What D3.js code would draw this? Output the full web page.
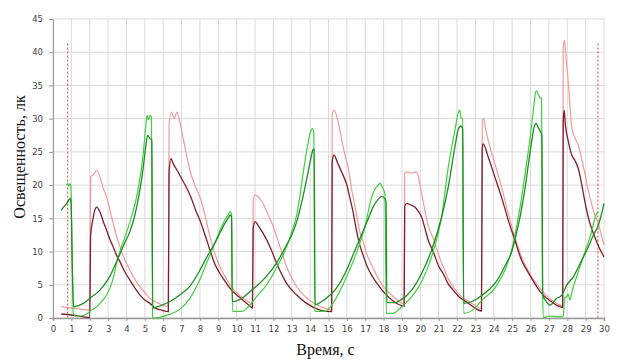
<!DOCTYPE html>
<meta charset="utf-8">
<head>
  <title>Освещенность</title>
</head>

<style>
body {
  margin: 0;
  background: #fff;
}
.tick text {
  font-family: "DejaVu Sans", sans-serif;
  font-size: 8.5px;
  fill: #444;
}
.axis-title {
  font-family: "Liberation Serif", serif;
  font-size: 16px;
  fill: #111;
}
</style>

<body>
  <svg id="chart" width="625" height="364"></svg>

  <script src="https://cdnjs.cloudflare.com/ajax/libs/d3/7.8.5/d3.min.js"></script>

  <script>
  // [время, с ; освещенность, лк]
  var lightRed = [
    [0.45,1.7],[1.0,1.5],[1.5,1.35],[2.0,1.2],[2.05,21.2],[2.2,21.6],[2.38,22.2],[2.56,21.2],[2.74,19.5],
    [2.92,18.2],[3.1,16.2],[3.28,14.2],[3.45,12.4],[3.65,10.7],[3.9,8.8],[4.19,7.2],[4.46,5.8],[4.74,4.7],
    [5.0,3.8],[5.28,2.95],[5.6,2.4],[5.9,2.0],[6.28,1.7],[6.32,29.0],[6.45,31.0],[6.6,30.0],[6.75,31.0],
    [6.9,29.5],[7.2,25.5],[7.46,22.2],[7.8,19.5],[8.0,18.2],[8.3,15.2],[8.55,12.2],[8.8,9.8],[9.09,7.7],
    [9.4,6.1],[9.64,4.95],[10.2,3.3],[10.72,2.3],[10.86,2.1],[10.9,17.8],[11.0,18.5],[11.2,18.2],[11.45,17.2],
    [11.7,15.6],[12.0,13.7],[12.36,10.7],[12.72,7.7],[13.0,6.0],[13.27,4.7],[13.81,3.0],[14.36,2.0],[15.0,1.3],
    [15.18,1.2],[15.2,30.5],[15.3,31.3],[15.5,29.8],[15.71,27.0],[15.9,24.5],[16.08,22.5],[16.25,19.5],
    [16.5,16.0],[16.7,13.0],[16.88,11.5],[17.1,9.5],[17.4,7.7],[17.7,6.0],[17.97,4.8],[18.5,3.3],[18.8,2.6],
    [19.12,2.1],[19.15,21.8],[19.3,22.0],[19.5,21.8],[19.8,22.0],[19.95,20.5],[20.07,18.7],[20.25,16.2],
    [20.43,13.9],[20.7,12.0],[21.0,9.5],[21.24,7.7],[21.5,6.0],[21.79,4.7],[22.1,3.6],[22.5,2.7],[22.97,1.9],
    [23.33,1.45],[23.37,29.5],[23.45,30.0],[23.55,28.5],[23.7,26.7],[24.06,23.2],[24.42,19.7],[24.79,15.7],
    [25.15,12.2],[25.51,9.2],[25.8,7.5],[26.06,6.2],[26.6,4.2],[27.14,2.7],[27.6,1.95],[27.75,1.9],
    [27.78,40.5],[27.85,41.8],[27.95,38.5],[28.05,35.7],[28.23,29.0],[28.4,27.2],[28.6,26.0],[28.78,24.0],
    [28.96,21.7],[29.14,19.3],[29.32,17.2],[29.5,15.5],[29.69,14.2],[29.85,12.5],[30.0,11.0]
  ];

  var darkRed = [
    [0.45,0.6],[1.0,0.45],[1.5,0.25],[2.0,0.05],[2.05,12.5],[2.15,14.5],[2.3,16.4],[2.38,16.7],[2.56,15.95],
    [2.74,14.5],[2.92,13.2],[3.1,11.8],[3.28,10.7],[3.45,9.5],[3.65,8.45],[3.9,7.0],[4.19,5.7],[4.46,4.5],
    [4.74,3.45],[5.0,2.7],[5.28,2.2],[5.55,1.5],[5.9,1.2],[6.28,0.95],[6.32,22.0],[6.42,24.0],[6.55,23.2],
    [6.7,22.5],[7.0,21.0],[7.46,18.5],[7.8,16.0],[8.0,14.7],[8.3,12.3],[8.55,10.2],[8.8,8.2],[9.09,6.7],
    [9.4,5.4],[9.64,4.45],[10.2,3.0],[10.72,1.8],[10.86,1.5],[10.9,13.5],[11.0,14.5],[11.2,13.8],[11.45,12.7],
    [11.82,10.7],[12.18,8.2],[12.45,6.6],[12.72,5.2],[13.27,3.45],[13.81,2.2],[14.54,1.2],[15.17,0.95],
    [15.2,23.5],[15.3,24.5],[15.5,23.3],[15.71,22.0],[16.0,20.0],[16.17,18.0],[16.35,15.8],[16.5,13.5],
    [16.7,11.0],[16.88,9.5],[17.1,7.8],[17.4,6.2],[17.7,5.0],[17.97,4.0],[18.5,2.6],[19.12,1.8],[19.15,16.8],
    [19.25,17.2],[19.5,17.0],[19.7,16.7],[19.9,16.0],[20.07,15.2],[20.25,13.5],[20.43,11.7],[20.7,10.0],
    [21.0,7.8],[21.24,6.7],[21.5,5.2],[21.79,4.2],[22.1,3.2],[22.5,2.45],[22.97,1.5],[23.33,1.05],
    [23.37,25.5],[23.42,26.2],[23.7,24.2],[24.06,21.2],[24.42,18.2],[24.79,14.7],[25.15,11.7],[25.51,8.7],
    [25.8,7.2],[26.06,5.95],[26.6,3.7],[27.14,2.45],[27.6,1.7],[27.75,1.6],[27.78,29.5],[27.83,31.3],
    [27.9,29.0],[28.05,26.7],[28.25,24.5],[28.42,23.7],[28.6,22.5],[28.78,20.2],[28.96,17.5],[29.14,15.2],
    [29.32,13.5],[29.5,12.2],[29.7,10.8],[30.0,9.2]
  ];

  var lightGreen = [
    [0.75,20.0],[0.8,20.3],[0.86,19.9],[0.93,20.2],[0.97,19.8],[1.05,8.0],[1.1,0.8],[1.2,0.3],[1.5,0.3],
    [1.83,0.6],[2.0,1.0],[2.3,1.5],[2.56,2.2],[2.8,3.0],[3.1,4.5],[3.3,6.2],[3.5,8.7],[3.7,10.5],[3.92,12.2],
    [4.19,14.5],[4.4,16.5],[4.56,18.3],[4.7,20.5],[4.83,22.8],[4.95,25.8],[5.05,28.8],[5.12,30.5],[5.2,29.8],
    [5.28,30.5],[5.36,30.3],[5.42,0.2],[5.45,0.0],[5.8,0.1],[6.3,0.5],[6.9,1.3],[7.46,3.0],[8.0,5.8],
    [8.4,8.5],[8.8,11.2],[9.09,13.2],[9.35,14.7],[9.55,15.6],[9.65,16.0],[9.72,15.6],[9.77,1.0],[10.3,1.0],
    [10.73,2.0],[11.09,3.2],[11.63,5.0],[12.18,7.6],[12.72,10.7],[13.0,13.0],[13.27,15.5],[13.45,18.5],
    [13.63,22.0],[13.82,25.3],[14.0,27.8],[14.12,28.5],[14.2,27.8],[14.25,1.0],[14.8,1.0],[15.35,2.7],
    [15.9,5.7],[16.44,9.2],[16.98,13.7],[17.35,18.2],[17.55,19.5],[17.71,20.0],[17.8,20.3],[17.89,19.9],
    [18.07,18.7],[18.15,0.7],[18.5,0.7],[18.98,1.7],[19.53,3.2],[20.07,5.45],[20.61,9.2],[21.16,15.2],
    [21.52,22.7],[21.88,28.2],[22.07,30.95],[22.15,31.3],[22.21,30.2],[22.3,30.0],[22.36,0.7],[22.9,1.3],
    [23.4,2.8],[24.06,4.5],[24.6,7.2],[25.0,10.5],[25.15,12.5],[25.45,17.0],[25.7,21.7],[25.9,25.5],
    [26.06,29.0],[26.2,32.5],[26.3,34.2],[26.4,33.8],[26.5,33.2],[26.6,33.0],[26.65,5.0],[26.7,0.0],
    [27.0,0.3],[27.5,0.2],[27.78,0.2],[27.85,3.0],[27.97,3.2],[28.05,3.6],[28.15,2.7],[28.25,3.8],
    [28.33,4.7],[28.51,6.2],[28.87,9.2],[29.24,12.2],[29.6,15.7],[29.69,16.0]
  ];

  var darkGreen = [
    [0.45,16.2],[0.6,16.8],[0.74,17.2],[0.85,17.7],[0.93,18.0],[0.98,17.5],[1.05,8.0],[1.12,1.7],[1.3,1.8],
    [1.65,2.2],[2.0,2.95],[2.56,4.2],[3.1,6.3],[3.5,8.7],[3.92,11.4],[4.19,13.0],[4.46,15.5],[4.7,18.8],
    [4.83,21.0],[4.95,23.5],[5.05,25.8],[5.15,27.5],[5.28,27.0],[5.38,26.8],[5.43,1.5],[5.8,1.8],[6.35,2.45],
    [6.9,3.45],[7.46,4.8],[8.0,7.2],[8.4,9.3],[8.8,11.2],[9.09,12.8],[9.35,14.2],[9.55,15.1],[9.65,15.5],
    [9.72,15.2],[9.76,2.45],[10.3,3.0],[10.73,4.0],[11.09,4.8],[11.63,6.3],[12.18,8.3],[12.72,11.0],
    [13.0,12.5],[13.27,14.5],[13.63,18.5],[13.82,21.0],[14.0,23.5],[14.15,25.3],[14.22,25.5],[14.27,2.0],
    [14.8,2.8],[15.35,4.2],[15.9,6.7],[16.44,10.2],[16.98,13.7],[17.53,17.2],[17.75,18.0],[17.89,18.3],
    [18.07,17.95],[18.13,17.5],[18.18,2.3],[18.6,2.3],[18.98,2.8],[19.53,4.2],[20.07,6.7],[20.61,10.2],
    [21.16,15.2],[21.52,19.7],[21.88,25.7],[22.07,28.45],[22.21,28.9],[22.3,28.5],[22.36,2.2],[22.9,2.6],
    [23.4,3.5],[24.06,5.2],[24.6,7.8],[25.0,10.2],[25.15,11.8],[25.45,15.5],[25.7,19.5],[25.9,23.5],
    [26.06,26.5],[26.2,28.8],[26.3,29.3],[26.45,28.5],[26.55,28.0],[26.62,27.5],[26.66,3.5],[26.85,2.5],
    [27.06,1.95],[27.4,2.9],[27.7,3.45],[27.97,4.95],[28.33,6.2],[28.7,8.2],[29.06,10.2],[29.42,12.45],
    [29.69,13.95],[29.85,15.5],[30.0,17.2]
  ];

  var markers = [0.8, 29.67];
  var xTicks = d3.range(0, 31, 1);
  var yTicks = d3.range(0, 46, 5);

  var svg = d3.select("#chart");
  var margin = {left: 53, right: 21, top: 19, bottom: 46};
  var width = 625 - margin.left - margin.right;
  var height = 364 - margin.top - margin.bottom;

  var x = d3.scaleLinear().domain([0, 30]).range([0, width]);
  var y = d3.scaleLinear().domain([0, 45]).range([height, 0]);

  var g = svg.append("g")
    .attr("transform", "translate(" + margin.left + "," + margin.top + ")");

  // grid
  g.append("g").selectAll("line.v")
    .data(xTicks)
    .enter().append("line")
    .attr("x1", d => x(d)).attr("x2", d => x(d))
    .attr("y1", 0).attr("y2", height)
    .attr("stroke", "#dadada");

  g.append("g").selectAll("line.h")
    .data(yTicks)
    .enter().append("line")
    .attr("x1", 0).attr("x2", width)
    .attr("y1", d => y(d)).attr("y2", d => y(d))
    .attr("stroke", "#dadada");

  // axes
  var xAxis = g.append("g")
    .attr("transform", "translate(0," + height + ")")
    .call(d3.axisBottom(x).tickValues(xTicks).tickSize(3).tickPadding(5).tickFormat(d3.format("d")));
  xAxis.select(".domain").attr("stroke", "#999").attr("stroke-width", 1.5);
  xAxis.selectAll(".tick line").attr("stroke", "#999");

  var yAxis = g.append("g")
    .call(d3.axisLeft(y).tickValues(yTicks).tickSize(4).tickPadding(6));
  yAxis.select(".domain").attr("stroke", "#999");
  yAxis.selectAll(".tick line").attr("stroke", "#999");

  // red dotted markers
  g.append("g").selectAll("line")
    .data(markers)
    .enter().append("line")
    .attr("x1", d => x(d)).attr("x2", d => x(d))
    .attr("y1", y(41.3)).attr("y2", height)
    .attr("stroke", "#e0404a")
    .attr("stroke-width", 1)
    .attr("stroke-dasharray", "2,2");

  var line = d3.line()
    .curve(d3.curveMonotoneX)
    .x(d => x(d[0]))
    .y(d => y(d[1]));

  var series = [
    {data: lightRed, color: "#f39a9a", w: 1.2},
    {data: darkRed, color: "#7d1f2c", w: 1.3},
    {data: lightGreen, color: "#3fcf3f", w: 1.2},
    {data: darkGreen, color: "#1f8e24", w: 1.3}
  ];

  g.selectAll("path.series")
    .data(series)
    .enter().append("path")
    .attr("class", "series")
    .attr("d", d => line(d.data))
    .attr("fill", "none")
    .attr("stroke", d => d.color)
    .attr("stroke-width", d => d.w)
    .attr("stroke-linejoin", "round");

  // titles
  svg.append("text")
    .attr("class", "axis-title")
    .attr("x", margin.left + x(15) - 3)
    .attr("y", 355)
    .attr("text-anchor", "middle")
    .text("Время, с");

  svg.append("text")
    .attr("class", "axis-title")
    .attr("transform", "translate(25," + 157 + ") rotate(-90)")
    .attr("text-anchor", "middle")
    .text("Освещенность, лк");
  </script>
</body>
</html>
